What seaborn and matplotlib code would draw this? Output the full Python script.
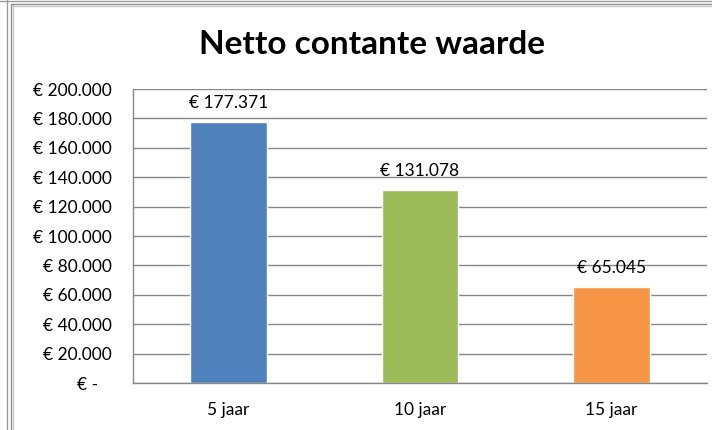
import matplotlib
matplotlib.use("Agg")
import matplotlib.pyplot as plt
import seaborn as sns
from matplotlib.lines import Line2D

# data
categories = ["5 jaar", "10 jaar", "15 jaar"]
values = [177371, 131078, 65045]
bar_colors = ["#4F81BD", "#9BBB59", "#F79646"]
y_ticks = [0, 20000, 40000, 60000, 80000, 100000, 120000, 140000, 160000, 180000, 200000]


def euro(v):
    # Excel accounting style: thousands with dots, zero shown as a dash
    if v == 0:
        return "€ -   "
    return "€ " + f"{v:,.0f}".replace(",", ".")


sns.set_style("white")
plt.rcParams["font.family"] = ["Lato", "DejaVu Sans"]
plt.rcParams["text.color"] = "black"
plt.rcParams["xtick.color"] = "black"
plt.rcParams["ytick.color"] = "black"

W, H = 712, 430
fig = plt.figure(figsize=(W / 100, H / 100), dpi=100)

# plot area in pixel positions
left, right, top, bottom = 133, 707, 89, 383
ax = fig.add_axes([left / W, (H - bottom) / H, (right - left) / W, (bottom - top) / H])

sns.barplot(x=categories, y=values, hue=categories, palette=bar_colors,
            legend=False, width=0.4, saturation=1, ax=ax)

ax.set_xlim(-0.5, 2.5)
ax.set_ylim(0, 200000)
ax.set_yticks(y_ticks)
ax.set_yticklabels([euro(v) for v in y_ticks], fontsize=12.5)
ax.tick_params(axis="y", length=4.5, color="#878787", labelcolor="black", pad=11)
ax.tick_params(axis="x", length=0, labelsize=12.5, labelcolor="black", pad=14)
ax.set_xticks([-0.5, 0.5, 1.5, 2.5], minor=True)
ax.tick_params(axis="x", which="minor", length=5.5, color="#878787", width=1)
ax.yaxis.grid(True, color="#878787", linewidth=1)
ax.set_axisbelow(True)
ax.set_xlabel("")
ax.set_ylabel("")
for s in ["top", "right"]:
    ax.spines[s].set_visible(False)
for s in ["left", "bottom"]:
    ax.spines[s].set_color("#878787")
    ax.spines[s].set_linewidth(1)

# value labels above bars
for i, v in enumerate(values):
    ax.annotate(euro(v), (i, v), xytext=(0, 8), textcoords="offset points",
                ha="center", va="bottom", fontsize=12.5, color="black")

fig.text(372 / W, 1 - 45 / H, "Netto contante waarde", ha="center", va="center",
         fontsize=24, fontweight="bold", color="black")

# spreadsheet cell borders round the chart
def px_line(x0, y0, x1, y1, color, lw=1):
    fig.add_artist(Line2D([x0 / W, x1 / W], [1 - y0 / H, 1 - y1 / H],
                          transform=fig.transFigure, color=color, linewidth=lw))

px_line(7, 0, 7, H, "#9a9a9a")
px_line(11, 4, 11, H, "#8c8c8c")
px_line(13, 4, 13, H, "#c8c8c8")
px_line(0, 1, W, 1, "#9a9a9a")
px_line(11, 4, W, 4, "#8c8c8c")
px_line(13, 6, W, 6, "#c8c8c8")

fig.savefig("out.png", dpi=100)
